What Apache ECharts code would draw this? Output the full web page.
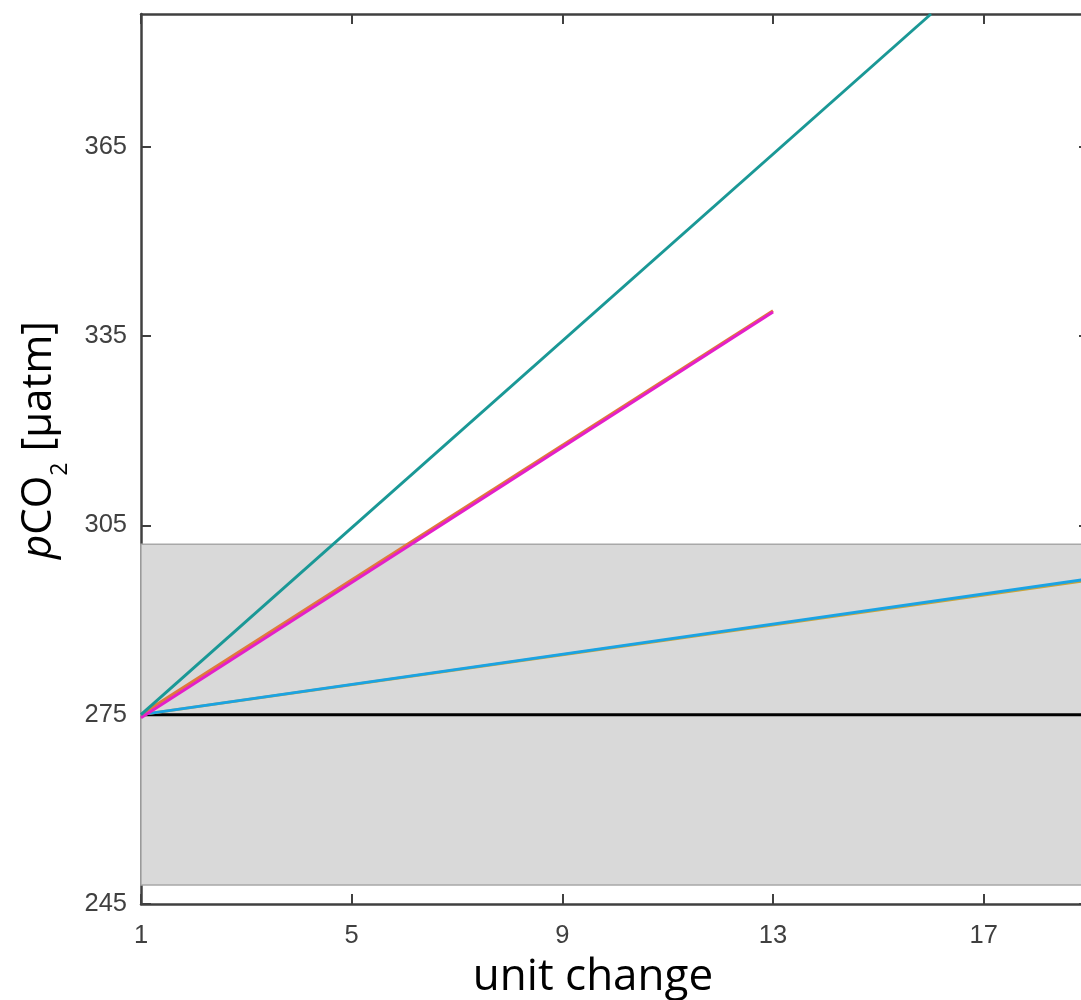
<!DOCTYPE html>
<html>
<head>
<meta charset="utf-8">
<script src="https://cdn.jsdelivr.net/npm/echarts@6/dist/echarts.min.js"></script>
<style>
html,body{margin:0;padding:0;background:#fff;}
#chart{width:1081px;height:1000px;}
</style>
</head>
<body>
<div id="chart"></div>
<script>
// ---- data ----
const xTicks = [1, 5, 9, 13, 17];
const yTicks = [245, 275, 305, 335, 365];
const bandRange = [248, 302];          // grey range band
const baseline = [[1, 275], [19, 275]]; // black reference line
const tealLine = [[1, 275], [16, 386]];
const orangeLine = [[1, 275], [13, 339]];
const magentaLine = [[1, 274.5], [13, 338.8]];
const goldLine = [[1, 275], [19, 296.3]];
const blueLine = [[1, 275], [19, 296.5]];
const xTitle = 'unit change';

const axisColor = '#404040';
const chart = echarts.init(document.getElementById('chart'), null, {renderer: 'canvas'});

function lineSeries(name, data, color, z) {
  return {
    name: name, type: 'line', data: data, symbol: 'none', z: z,
    lineStyle: {color: color, width: 3}, clip: true, silent: true
  };
}

const tickStyle = {show: true, inside: true, length: 10, lineStyle: {color: axisColor, width: 2}};
const lineAx = {show: true, onZero: false, lineStyle: {color: axisColor, width: 2.5}};
const labelFont = {color: '#404040', fontSize: 25.5, fontFamily: 'Liberation Sans'};

chart.setOption({
  animation: false,
  grid: {left: 141, top: 14, bottom: 96, right: -8, show: false, containLabel: false, outerBoundsMode: 'none'},
  xAxis: [{
    type: 'value', min: 1, max: 19, position: 'bottom',
    axisLine: lineAx,
    axisTick: Object.assign({customValues: xTicks}, tickStyle),
    axisLabel: Object.assign({customValues: xTicks, margin: 19, hideOverlap: false}, labelFont),
    splitLine: {show: false}
  }, {
    type: 'value', min: 1, max: 19, position: 'top',
    axisLine: lineAx,
    axisTick: Object.assign({customValues: xTicks}, tickStyle),
    axisLabel: {show: false}, splitLine: {show: false}
  }],
  yAxis: [{
    type: 'value', min: 245, max: 386, position: 'left',
    axisLine: lineAx,
    axisTick: Object.assign({customValues: yTicks}, tickStyle),
    axisLabel: Object.assign({customValues: yTicks, margin: 14, hideOverlap: false}, labelFont),
    splitLine: {show: false}
  }, {
    type: 'value', min: 245, max: 386, position: 'right',
    axisLine: lineAx,
    axisTick: Object.assign({customValues: yTicks}, tickStyle),
    axisLabel: {show: false}, splitLine: {show: false}
  }],
  graphic: [{
    type: 'text', x: 34, y: 440, rotation: Math.PI / 2,
    style: {
      text: '{i|p}{n|CO}{s|2}{n| [µatm]}',
      align: 'center', verticalAlign: 'middle',
      rich: {
        i: {fontSize: 42, fontStyle: 'italic', fontFamily: 'Open Sans', fill: '#000', lineHeight: 52, verticalAlign: 'bottom'},
        n: {fontSize: 42, fontFamily: 'Open Sans', fill: '#000', lineHeight: 52, verticalAlign: 'bottom'},
        s: {fontSize: 23, fontFamily: 'Open Sans', fill: '#000', lineHeight: 52, verticalAlign: 'bottom', padding: [0, 0, -12, 0]}
      }
    }
  }, {
    type: 'text', x: 593, y: 955,
    style: {
      text: xTitle, align: 'center', verticalAlign: 'top',
      fontSize: 44, fontFamily: 'Open Sans', fill: '#000'
    }
  }],
  series: [
    {
      type: 'line', data: baseline, symbol: 'none', z: 3, silent: true,
      lineStyle: {color: '#000', width: 3},
      markArea: {
        silent: true,
        itemStyle: {color: '#d9d9d9', borderColor: '#a8a8a8', borderWidth: 1.5},
        data: [[{yAxis: bandRange[0]}, {yAxis: bandRange[1]}]]
      }
    },
    lineSeries('gold', goldLine, '#c9a43a', 4),
    lineSeries('blue', blueLine, '#1ba3e3', 5),
    lineSeries('orange', orangeLine, '#e0793a', 6),
    lineSeries('magenta', magentaLine, '#e41fc8', 7),
    lineSeries('teal', tealLine, '#1a9896', 8)
  ]
});
</script>
</body>
</html>
